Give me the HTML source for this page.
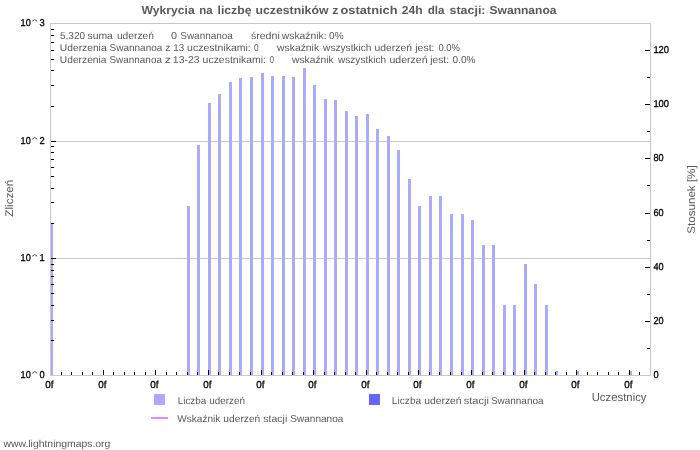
<!DOCTYPE html>
<html><head><meta charset="utf-8"><style>
html,body{margin:0;padding:0;background:#fff;width:700px;height:450px;overflow:hidden}
svg{display:block;will-change:transform}
</style></head><body>
<svg width="700" height="450" viewBox="0 0 700 450" shape-rendering="crispEdges" text-rendering="geometricPrecision">
<rect x="0" y="0" width="700" height="450" fill="#fff"/>
<rect x="51" y="141" width="599" height="1" fill="#c8c8c8"/>
<rect x="51" y="258" width="599" height="1" fill="#c8c8c8"/>
<rect x="50" y="223" width="3" height="152" fill="#aaaaff"/>
<rect x="187" y="206" width="3" height="169" fill="#aaaaff"/>
<rect x="197" y="145" width="3" height="230" fill="#aaaaff"/>
<rect x="208" y="103" width="3" height="272" fill="#aaaaff"/>
<rect x="218" y="94" width="3" height="281" fill="#aaaaff"/>
<rect x="229" y="82" width="3" height="293" fill="#aaaaff"/>
<rect x="239" y="78" width="3" height="297" fill="#aaaaff"/>
<rect x="250" y="77" width="3" height="298" fill="#aaaaff"/>
<rect x="261" y="73" width="3" height="302" fill="#aaaaff"/>
<rect x="271" y="76" width="3" height="299" fill="#aaaaff"/>
<rect x="282" y="76" width="3" height="299" fill="#aaaaff"/>
<rect x="292" y="77" width="3" height="298" fill="#aaaaff"/>
<rect x="303" y="68" width="3" height="307" fill="#aaaaff"/>
<rect x="313" y="85" width="3" height="290" fill="#aaaaff"/>
<rect x="324" y="99" width="3" height="276" fill="#aaaaff"/>
<rect x="334" y="100" width="3" height="275" fill="#aaaaff"/>
<rect x="345" y="111" width="3" height="264" fill="#aaaaff"/>
<rect x="355" y="116" width="3" height="259" fill="#aaaaff"/>
<rect x="366" y="114" width="3" height="261" fill="#aaaaff"/>
<rect x="376" y="129" width="3" height="246" fill="#aaaaff"/>
<rect x="387" y="136" width="3" height="239" fill="#aaaaff"/>
<rect x="397" y="150" width="3" height="225" fill="#aaaaff"/>
<rect x="408" y="179" width="3" height="196" fill="#aaaaff"/>
<rect x="418" y="206" width="3" height="169" fill="#aaaaff"/>
<rect x="429" y="196" width="3" height="179" fill="#aaaaff"/>
<rect x="439" y="196" width="3" height="179" fill="#aaaaff"/>
<rect x="450" y="214" width="3" height="161" fill="#aaaaff"/>
<rect x="461" y="214" width="3" height="161" fill="#aaaaff"/>
<rect x="471" y="220" width="3" height="155" fill="#aaaaff"/>
<rect x="482" y="245" width="3" height="130" fill="#aaaaff"/>
<rect x="492" y="245" width="3" height="130" fill="#aaaaff"/>
<rect x="503" y="305" width="3" height="70" fill="#aaaaff"/>
<rect x="513" y="305" width="3" height="70" fill="#aaaaff"/>
<rect x="524" y="264" width="3" height="111" fill="#aaaaff"/>
<rect x="534" y="284" width="3" height="91" fill="#aaaaff"/>
<rect x="545" y="305" width="3" height="70" fill="#aaaaff"/>
<rect x="555" y="371" width="3" height="4" fill="#aaaaff"/>
<rect x="576" y="371" width="3" height="4" fill="#aaaaff"/>
<rect x="629" y="371" width="3" height="4" fill="#aaaaff"/>
<rect x="50" y="23" width="601" height="1" fill="#c8c8c8"/>
<rect x="50" y="375" width="601" height="1" fill="#c8c8c8"/>
<rect x="50" y="23" width="1" height="353" fill="#c8c8c8"/>
<rect x="650" y="23" width="1" height="353" fill="#c8c8c8"/>
<rect x="51" y="340" width="3" height="1" fill="#000"/>
<rect x="51" y="320" width="3" height="1" fill="#000"/>
<rect x="51" y="305" width="3" height="1" fill="#000"/>
<rect x="51" y="293" width="3" height="1" fill="#000"/>
<rect x="51" y="284" width="3" height="1" fill="#000"/>
<rect x="51" y="276" width="3" height="1" fill="#000"/>
<rect x="51" y="270" width="3" height="1" fill="#000"/>
<rect x="51" y="264" width="3" height="1" fill="#000"/>
<rect x="51" y="258" width="5" height="1" fill="#000"/>
<rect x="51" y="223" width="3" height="1" fill="#000"/>
<rect x="51" y="202" width="3" height="1" fill="#000"/>
<rect x="51" y="188" width="3" height="1" fill="#000"/>
<rect x="51" y="176" width="3" height="1" fill="#000"/>
<rect x="51" y="167" width="3" height="1" fill="#000"/>
<rect x="51" y="159" width="3" height="1" fill="#000"/>
<rect x="51" y="152" width="3" height="1" fill="#000"/>
<rect x="51" y="146" width="3" height="1" fill="#000"/>
<rect x="51" y="141" width="5" height="1" fill="#000"/>
<rect x="51" y="106" width="3" height="1" fill="#000"/>
<rect x="51" y="85" width="3" height="1" fill="#000"/>
<rect x="51" y="70" width="3" height="1" fill="#000"/>
<rect x="51" y="59" width="3" height="1" fill="#000"/>
<rect x="51" y="50" width="3" height="1" fill="#000"/>
<rect x="51" y="42" width="3" height="1" fill="#000"/>
<rect x="51" y="35" width="3" height="1" fill="#000"/>
<rect x="51" y="29" width="3" height="1" fill="#000"/>
<rect x="647" y="348" width="3" height="1" fill="#000"/>
<rect x="645" y="321" width="5" height="1" fill="#000"/>
<rect x="647" y="294" width="3" height="1" fill="#000"/>
<rect x="645" y="267" width="5" height="1" fill="#000"/>
<rect x="647" y="240" width="3" height="1" fill="#000"/>
<rect x="645" y="213" width="5" height="1" fill="#000"/>
<rect x="647" y="185" width="3" height="1" fill="#000"/>
<rect x="645" y="158" width="5" height="1" fill="#000"/>
<rect x="647" y="131" width="3" height="1" fill="#000"/>
<rect x="645" y="104" width="5" height="1" fill="#000"/>
<rect x="647" y="77" width="3" height="1" fill="#000"/>
<rect x="645" y="50" width="5" height="1" fill="#000"/>
<rect x="61" y="372" width="1" height="3" fill="#000"/>
<rect x="71" y="372" width="1" height="3" fill="#000"/>
<rect x="82" y="372" width="1" height="3" fill="#000"/>
<rect x="92" y="372" width="1" height="3" fill="#000"/>
<rect x="103" y="370" width="1" height="5" fill="#000"/>
<rect x="113" y="372" width="1" height="3" fill="#000"/>
<rect x="124" y="372" width="1" height="3" fill="#000"/>
<rect x="134" y="372" width="1" height="3" fill="#000"/>
<rect x="145" y="372" width="1" height="3" fill="#000"/>
<rect x="155" y="370" width="1" height="5" fill="#000"/>
<rect x="166" y="372" width="1" height="3" fill="#000"/>
<rect x="176" y="372" width="1" height="3" fill="#000"/>
<rect x="187" y="372" width="1" height="3" fill="#000"/>
<rect x="197" y="372" width="1" height="3" fill="#000"/>
<rect x="208" y="370" width="1" height="5" fill="#000"/>
<rect x="218" y="372" width="1" height="3" fill="#000"/>
<rect x="229" y="372" width="1" height="3" fill="#000"/>
<rect x="239" y="372" width="1" height="3" fill="#000"/>
<rect x="250" y="372" width="1" height="3" fill="#000"/>
<rect x="261" y="370" width="1" height="5" fill="#000"/>
<rect x="271" y="372" width="1" height="3" fill="#000"/>
<rect x="282" y="372" width="1" height="3" fill="#000"/>
<rect x="292" y="372" width="1" height="3" fill="#000"/>
<rect x="303" y="372" width="1" height="3" fill="#000"/>
<rect x="313" y="370" width="1" height="5" fill="#000"/>
<rect x="324" y="372" width="1" height="3" fill="#000"/>
<rect x="334" y="372" width="1" height="3" fill="#000"/>
<rect x="345" y="372" width="1" height="3" fill="#000"/>
<rect x="355" y="372" width="1" height="3" fill="#000"/>
<rect x="366" y="370" width="1" height="5" fill="#000"/>
<rect x="376" y="372" width="1" height="3" fill="#000"/>
<rect x="387" y="372" width="1" height="3" fill="#000"/>
<rect x="397" y="372" width="1" height="3" fill="#000"/>
<rect x="408" y="372" width="1" height="3" fill="#000"/>
<rect x="418" y="370" width="1" height="5" fill="#000"/>
<rect x="429" y="372" width="1" height="3" fill="#000"/>
<rect x="439" y="372" width="1" height="3" fill="#000"/>
<rect x="450" y="372" width="1" height="3" fill="#000"/>
<rect x="461" y="372" width="1" height="3" fill="#000"/>
<rect x="471" y="370" width="1" height="5" fill="#000"/>
<rect x="482" y="372" width="1" height="3" fill="#000"/>
<rect x="492" y="372" width="1" height="3" fill="#000"/>
<rect x="503" y="372" width="1" height="3" fill="#000"/>
<rect x="513" y="372" width="1" height="3" fill="#000"/>
<rect x="524" y="370" width="1" height="5" fill="#000"/>
<rect x="534" y="372" width="1" height="3" fill="#000"/>
<rect x="545" y="372" width="1" height="3" fill="#000"/>
<rect x="555" y="372" width="1" height="3" fill="#000"/>
<rect x="566" y="372" width="1" height="3" fill="#000"/>
<rect x="576" y="370" width="1" height="5" fill="#000"/>
<rect x="587" y="372" width="1" height="3" fill="#000"/>
<rect x="597" y="372" width="1" height="3" fill="#000"/>
<rect x="608" y="372" width="1" height="3" fill="#000"/>
<rect x="618" y="372" width="1" height="3" fill="#000"/>
<rect x="629" y="370" width="1" height="5" fill="#000"/>
<rect x="639" y="372" width="1" height="3" fill="#000"/>
<text x="20.6" y="26" font-size="10" fill="#000" font-family="Liberation Sans, sans-serif" textLength="10.2" lengthAdjust="spacingAndGlyphs" stroke="#000" stroke-width="0.3">10</text>
<polyline points="32.2,21.3 34.7,19.5 37.2,21.3" fill="none" stroke="#333" stroke-width="0.9" shape-rendering="geometricPrecision"/>
<text x="39.4" y="26" font-size="10" fill="#000" font-family="Liberation Sans, sans-serif" textLength="5.2" lengthAdjust="spacingAndGlyphs" stroke="#000" stroke-width="0.3">3</text>
<text x="20.6" y="144" font-size="10" fill="#000" font-family="Liberation Sans, sans-serif" textLength="10.2" lengthAdjust="spacingAndGlyphs" stroke="#000" stroke-width="0.3">10</text>
<polyline points="32.2,139.3 34.7,137.5 37.2,139.3" fill="none" stroke="#333" stroke-width="0.9" shape-rendering="geometricPrecision"/>
<text x="39.4" y="144" font-size="10" fill="#000" font-family="Liberation Sans, sans-serif" textLength="5.2" lengthAdjust="spacingAndGlyphs" stroke="#000" stroke-width="0.3">2</text>
<text x="20.6" y="261" font-size="10" fill="#000" font-family="Liberation Sans, sans-serif" textLength="10.2" lengthAdjust="spacingAndGlyphs" stroke="#000" stroke-width="0.3">10</text>
<polyline points="32.2,256.3 34.7,254.5 37.2,256.3" fill="none" stroke="#333" stroke-width="0.9" shape-rendering="geometricPrecision"/>
<text x="39.4" y="261" font-size="10" fill="#000" font-family="Liberation Sans, sans-serif" textLength="5.2" lengthAdjust="spacingAndGlyphs" stroke="#000" stroke-width="0.3">1</text>
<text x="20.6" y="378" font-size="10" fill="#000" font-family="Liberation Sans, sans-serif" textLength="10.2" lengthAdjust="spacingAndGlyphs" stroke="#000" stroke-width="0.3">10</text>
<polyline points="32.2,373.3 34.7,371.5 37.2,373.3" fill="none" stroke="#333" stroke-width="0.9" shape-rendering="geometricPrecision"/>
<text x="39.4" y="378" font-size="10" fill="#000" font-family="Liberation Sans, sans-serif" textLength="5.2" lengthAdjust="spacingAndGlyphs" stroke="#000" stroke-width="0.3">0</text>
<text x="653.4" y="378" font-size="10" fill="#000" font-family="Liberation Sans, sans-serif" textLength="5.2" lengthAdjust="spacingAndGlyphs" stroke="#000" stroke-width="0.3">0</text>
<text x="653.4" y="324" font-size="10" fill="#000" font-family="Liberation Sans, sans-serif" textLength="10.2" lengthAdjust="spacingAndGlyphs" stroke="#000" stroke-width="0.3">20</text>
<text x="653.4" y="270" font-size="10" fill="#000" font-family="Liberation Sans, sans-serif" textLength="10.2" lengthAdjust="spacingAndGlyphs" stroke="#000" stroke-width="0.3">40</text>
<text x="653.4" y="216" font-size="10" fill="#000" font-family="Liberation Sans, sans-serif" textLength="10.2" lengthAdjust="spacingAndGlyphs" stroke="#000" stroke-width="0.3">60</text>
<text x="653.4" y="161" font-size="10" fill="#000" font-family="Liberation Sans, sans-serif" textLength="10.2" lengthAdjust="spacingAndGlyphs" stroke="#000" stroke-width="0.3">80</text>
<text x="653.4" y="107" font-size="10" fill="#000" font-family="Liberation Sans, sans-serif" textLength="15.7" lengthAdjust="spacingAndGlyphs" stroke="#000" stroke-width="0.3">100</text>
<text x="653.4" y="53" font-size="10" fill="#000" font-family="Liberation Sans, sans-serif" textLength="15.7" lengthAdjust="spacingAndGlyphs" stroke="#000" stroke-width="0.3">120</text>
<text x="45.3" y="388" font-size="10" fill="#000" font-family="Liberation Sans, sans-serif" textLength="8.2" lengthAdjust="spacingAndGlyphs" stroke="#000" stroke-width="0.3">0f</text>
<text x="98.3" y="388" font-size="10" fill="#000" font-family="Liberation Sans, sans-serif" textLength="8.2" lengthAdjust="spacingAndGlyphs" stroke="#000" stroke-width="0.3">0f</text>
<text x="150.3" y="388" font-size="10" fill="#000" font-family="Liberation Sans, sans-serif" textLength="8.2" lengthAdjust="spacingAndGlyphs" stroke="#000" stroke-width="0.3">0f</text>
<text x="203.3" y="388" font-size="10" fill="#000" font-family="Liberation Sans, sans-serif" textLength="8.2" lengthAdjust="spacingAndGlyphs" stroke="#000" stroke-width="0.3">0f</text>
<text x="256.3" y="388" font-size="10" fill="#000" font-family="Liberation Sans, sans-serif" textLength="8.2" lengthAdjust="spacingAndGlyphs" stroke="#000" stroke-width="0.3">0f</text>
<text x="308.3" y="388" font-size="10" fill="#000" font-family="Liberation Sans, sans-serif" textLength="8.2" lengthAdjust="spacingAndGlyphs" stroke="#000" stroke-width="0.3">0f</text>
<text x="361.3" y="388" font-size="10" fill="#000" font-family="Liberation Sans, sans-serif" textLength="8.2" lengthAdjust="spacingAndGlyphs" stroke="#000" stroke-width="0.3">0f</text>
<text x="413.3" y="388" font-size="10" fill="#000" font-family="Liberation Sans, sans-serif" textLength="8.2" lengthAdjust="spacingAndGlyphs" stroke="#000" stroke-width="0.3">0f</text>
<text x="466.3" y="388" font-size="10" fill="#000" font-family="Liberation Sans, sans-serif" textLength="8.2" lengthAdjust="spacingAndGlyphs" stroke="#000" stroke-width="0.3">0f</text>
<text x="519.3" y="388" font-size="10" fill="#000" font-family="Liberation Sans, sans-serif" textLength="8.2" lengthAdjust="spacingAndGlyphs" stroke="#000" stroke-width="0.3">0f</text>
<text x="571.3" y="388" font-size="10" fill="#000" font-family="Liberation Sans, sans-serif" textLength="8.2" lengthAdjust="spacingAndGlyphs" stroke="#000" stroke-width="0.3">0f</text>
<text x="624.3" y="388" font-size="10" fill="#000" font-family="Liberation Sans, sans-serif" textLength="8.2" lengthAdjust="spacingAndGlyphs" stroke="#000" stroke-width="0.3">0f</text>
<text transform="translate(13.3,216.7) rotate(-90)" font-size="11" fill="#585858" font-family="Liberation Sans, sans-serif" textLength="37" lengthAdjust="spacingAndGlyphs">Zliczeń</text>
<text transform="translate(695.4,233.8) rotate(-90)" font-size="11" fill="#585858" font-family="Liberation Sans, sans-serif" textLength="68.5" lengthAdjust="spacingAndGlyphs">Stosunek [%]</text>
<rect x="154" y="394" width="11" height="11" fill="#aaaaff"/>
<rect x="369" y="394" width="11" height="11" fill="#6666ff"/>
<rect x="151" y="417" width="17" height="2" fill="#e88aff"/>
<text x="141.49" y="14" font-size="11.5" fill="#5a5a5a" font-family="Liberation Sans, sans-serif" font-weight="bold" textLength="53.24" lengthAdjust="spacingAndGlyphs">Wykrycia</text>
<text x="199.13" y="14" font-size="11.5" fill="#5a5a5a" font-family="Liberation Sans, sans-serif" font-weight="bold" textLength="13.4" lengthAdjust="spacingAndGlyphs">na</text>
<text x="217.5" y="14" font-size="11.5" fill="#5a5a5a" font-family="Liberation Sans, sans-serif" font-weight="bold" textLength="34.0" lengthAdjust="spacingAndGlyphs">liczbę</text>
<text x="255.5" y="14" font-size="11.5" fill="#5a5a5a" font-family="Liberation Sans, sans-serif" font-weight="bold" textLength="73.0" lengthAdjust="spacingAndGlyphs">uczestników</text>
<text x="332.31" y="14" font-size="11.5" fill="#5a5a5a" font-family="Liberation Sans, sans-serif" font-weight="bold" textLength="6.14" lengthAdjust="spacingAndGlyphs">z</text>
<text x="340.5" y="14" font-size="11.5" fill="#5a5a5a" font-family="Liberation Sans, sans-serif" font-weight="bold" textLength="57.0" lengthAdjust="spacingAndGlyphs">ostatnich</text>
<text x="401.69" y="14" font-size="11.5" fill="#5a5a5a" font-family="Liberation Sans, sans-serif" font-weight="bold" textLength="20.83" lengthAdjust="spacingAndGlyphs">24h</text>
<text x="427.67" y="14" font-size="11.5" fill="#5a5a5a" font-family="Liberation Sans, sans-serif" font-weight="bold" textLength="16.84" lengthAdjust="spacingAndGlyphs">dla</text>
<text x="449.5" y="14" font-size="11.5" fill="#5a5a5a" font-family="Liberation Sans, sans-serif" font-weight="bold" textLength="36.0" lengthAdjust="spacingAndGlyphs">stacji:</text>
<text x="489.5" y="14" font-size="11.5" fill="#5a5a5a" font-family="Liberation Sans, sans-serif" font-weight="bold" textLength="67.0" lengthAdjust="spacingAndGlyphs">Swannanoa</text>
<text x="59.91" y="39" font-size="10" fill="#585858" font-family="Liberation Sans, sans-serif" textLength="25.19" lengthAdjust="spacingAndGlyphs">5,320</text>
<text x="87.51" y="39" font-size="10" fill="#585858" font-family="Liberation Sans, sans-serif" textLength="25.4" lengthAdjust="spacingAndGlyphs">suma</text>
<text x="116.9" y="39" font-size="10" fill="#585858" font-family="Liberation Sans, sans-serif" textLength="37.0" lengthAdjust="spacingAndGlyphs">uderzeń</text>
<text x="170.94" y="39" font-size="10" fill="#585858" font-family="Liberation Sans, sans-serif" textLength="6.01" lengthAdjust="spacingAndGlyphs">0</text>
<text x="180.27" y="39" font-size="10" fill="#585858" font-family="Liberation Sans, sans-serif" textLength="52.64" lengthAdjust="spacingAndGlyphs">Swannanoa</text>
<text x="250.9" y="39" font-size="10" fill="#585858" font-family="Liberation Sans, sans-serif" textLength="28.88" lengthAdjust="spacingAndGlyphs">średni</text>
<text x="281.76" y="39" font-size="10" fill="#585858" font-family="Liberation Sans, sans-serif" textLength="44.82" lengthAdjust="spacingAndGlyphs">wskaźnik:</text>
<text x="329.09" y="39" font-size="10" fill="#585858" font-family="Liberation Sans, sans-serif" textLength="14.45" lengthAdjust="spacingAndGlyphs">0%</text>
<text x="59.88" y="51" font-size="10" fill="#585858" font-family="Liberation Sans, sans-serif" textLength="46.74" lengthAdjust="spacingAndGlyphs">Uderzenia</text>
<text x="109.61" y="51" font-size="10" fill="#585858" font-family="Liberation Sans, sans-serif" textLength="52.7" lengthAdjust="spacingAndGlyphs">Swannanoa</text>
<text x="165.17" y="51" font-size="10" fill="#585858" font-family="Liberation Sans, sans-serif" textLength="5.17" lengthAdjust="spacingAndGlyphs">z</text>
<text x="173.24" y="51" font-size="10" fill="#585858" font-family="Liberation Sans, sans-serif" textLength="10.92" lengthAdjust="spacingAndGlyphs">13</text>
<text x="187.13" y="51" font-size="10" fill="#585858" font-family="Liberation Sans, sans-serif" textLength="63.61" lengthAdjust="spacingAndGlyphs">uczestnikami:</text>
<text x="254.12" y="51" font-size="10" fill="#585858" font-family="Liberation Sans, sans-serif" textLength="4.63" lengthAdjust="spacingAndGlyphs">0</text>
<text x="277.1" y="51" font-size="10" fill="#585858" font-family="Liberation Sans, sans-serif" textLength="42.02" lengthAdjust="spacingAndGlyphs">wskaźnik</text>
<text x="323.09" y="51" font-size="10" fill="#585858" font-family="Liberation Sans, sans-serif" textLength="48.4" lengthAdjust="spacingAndGlyphs">wszystkich</text>
<text x="374.51" y="51" font-size="10" fill="#585858" font-family="Liberation Sans, sans-serif" textLength="37.4" lengthAdjust="spacingAndGlyphs">uderzeń</text>
<text x="415.27" y="51" font-size="10" fill="#585858" font-family="Liberation Sans, sans-serif" textLength="19.2" lengthAdjust="spacingAndGlyphs">jest:</text>
<text x="438.5" y="51" font-size="10" fill="#585858" font-family="Liberation Sans, sans-serif" textLength="21.42" lengthAdjust="spacingAndGlyphs">0.0%</text>
<text x="59.88" y="63" font-size="10" fill="#585858" font-family="Liberation Sans, sans-serif" textLength="46.58" lengthAdjust="spacingAndGlyphs">Uderzenia</text>
<text x="109.45" y="63" font-size="10" fill="#585858" font-family="Liberation Sans, sans-serif" textLength="52.5" lengthAdjust="spacingAndGlyphs">Swannanoa</text>
<text x="164.75" y="63" font-size="10" fill="#585858" font-family="Liberation Sans, sans-serif" textLength="6.2" lengthAdjust="spacingAndGlyphs">z</text>
<text x="172.84" y="63" font-size="10" fill="#585858" font-family="Liberation Sans, sans-serif" textLength="26.79" lengthAdjust="spacingAndGlyphs">13-23</text>
<text x="202.58" y="63" font-size="10" fill="#585858" font-family="Liberation Sans, sans-serif" textLength="63.4" lengthAdjust="spacingAndGlyphs">uczestnikami:</text>
<text x="269.67" y="63" font-size="10" fill="#585858" font-family="Liberation Sans, sans-serif" textLength="4.28" lengthAdjust="spacingAndGlyphs">0</text>
<text x="292.09" y="63" font-size="10" fill="#585858" font-family="Liberation Sans, sans-serif" textLength="41.6" lengthAdjust="spacingAndGlyphs">wskaźnik</text>
<text x="338.09" y="63" font-size="10" fill="#585858" font-family="Liberation Sans, sans-serif" textLength="48.0" lengthAdjust="spacingAndGlyphs">wszystkich</text>
<text x="389.5" y="63" font-size="10" fill="#585858" font-family="Liberation Sans, sans-serif" textLength="38.0" lengthAdjust="spacingAndGlyphs">uderzeń</text>
<text x="430.26" y="63" font-size="10" fill="#585858" font-family="Liberation Sans, sans-serif" textLength="18.81" lengthAdjust="spacingAndGlyphs">jest:</text>
<text x="452.5" y="63" font-size="10" fill="#585858" font-family="Liberation Sans, sans-serif" textLength="23.0" lengthAdjust="spacingAndGlyphs">0.0%</text>
<text x="177.71" y="404" font-size="10" fill="#585858" font-family="Liberation Sans, sans-serif" textLength="28.56" lengthAdjust="spacingAndGlyphs">Liczba</text>
<text x="209.27" y="404" font-size="10" fill="#585858" font-family="Liberation Sans, sans-serif" textLength="35.65" lengthAdjust="spacingAndGlyphs">uderzeń</text>
<text x="391.89" y="404" font-size="10" fill="#585858" font-family="Liberation Sans, sans-serif" textLength="29.32" lengthAdjust="spacingAndGlyphs">Liczba</text>
<text x="424.21" y="404" font-size="10" fill="#585858" font-family="Liberation Sans, sans-serif" textLength="37.4" lengthAdjust="spacingAndGlyphs">uderzeń</text>
<text x="463.65" y="404" font-size="10" fill="#585858" font-family="Liberation Sans, sans-serif" textLength="25.24" lengthAdjust="spacingAndGlyphs">stacji</text>
<text x="490.95" y="404" font-size="10" fill="#585858" font-family="Liberation Sans, sans-serif" textLength="52.57" lengthAdjust="spacingAndGlyphs">Swannanoa</text>
<text x="177.31" y="422" font-size="10" fill="#585858" font-family="Liberation Sans, sans-serif" textLength="43.0" lengthAdjust="spacingAndGlyphs">Wskaźnik</text>
<text x="223.3" y="422" font-size="10" fill="#585858" font-family="Liberation Sans, sans-serif" textLength="37.0" lengthAdjust="spacingAndGlyphs">uderzeń</text>
<text x="263.3" y="422" font-size="10" fill="#585858" font-family="Liberation Sans, sans-serif" textLength="24.0" lengthAdjust="spacingAndGlyphs">stacji</text>
<text x="290.31" y="422" font-size="10" fill="#585858" font-family="Liberation Sans, sans-serif" textLength="53.0" lengthAdjust="spacingAndGlyphs">Swannanoa</text>
<text x="3.49" y="447" font-size="10" fill="#585858" font-family="Liberation Sans, sans-serif" textLength="106.8" lengthAdjust="spacingAndGlyphs">www.lightningmaps.org</text>
<text x="591.7" y="401" font-size="11.5" fill="#585858" font-family="Liberation Sans, sans-serif" textLength="54.81" lengthAdjust="spacingAndGlyphs">Uczestnicy</text>
</svg>
</body></html>
